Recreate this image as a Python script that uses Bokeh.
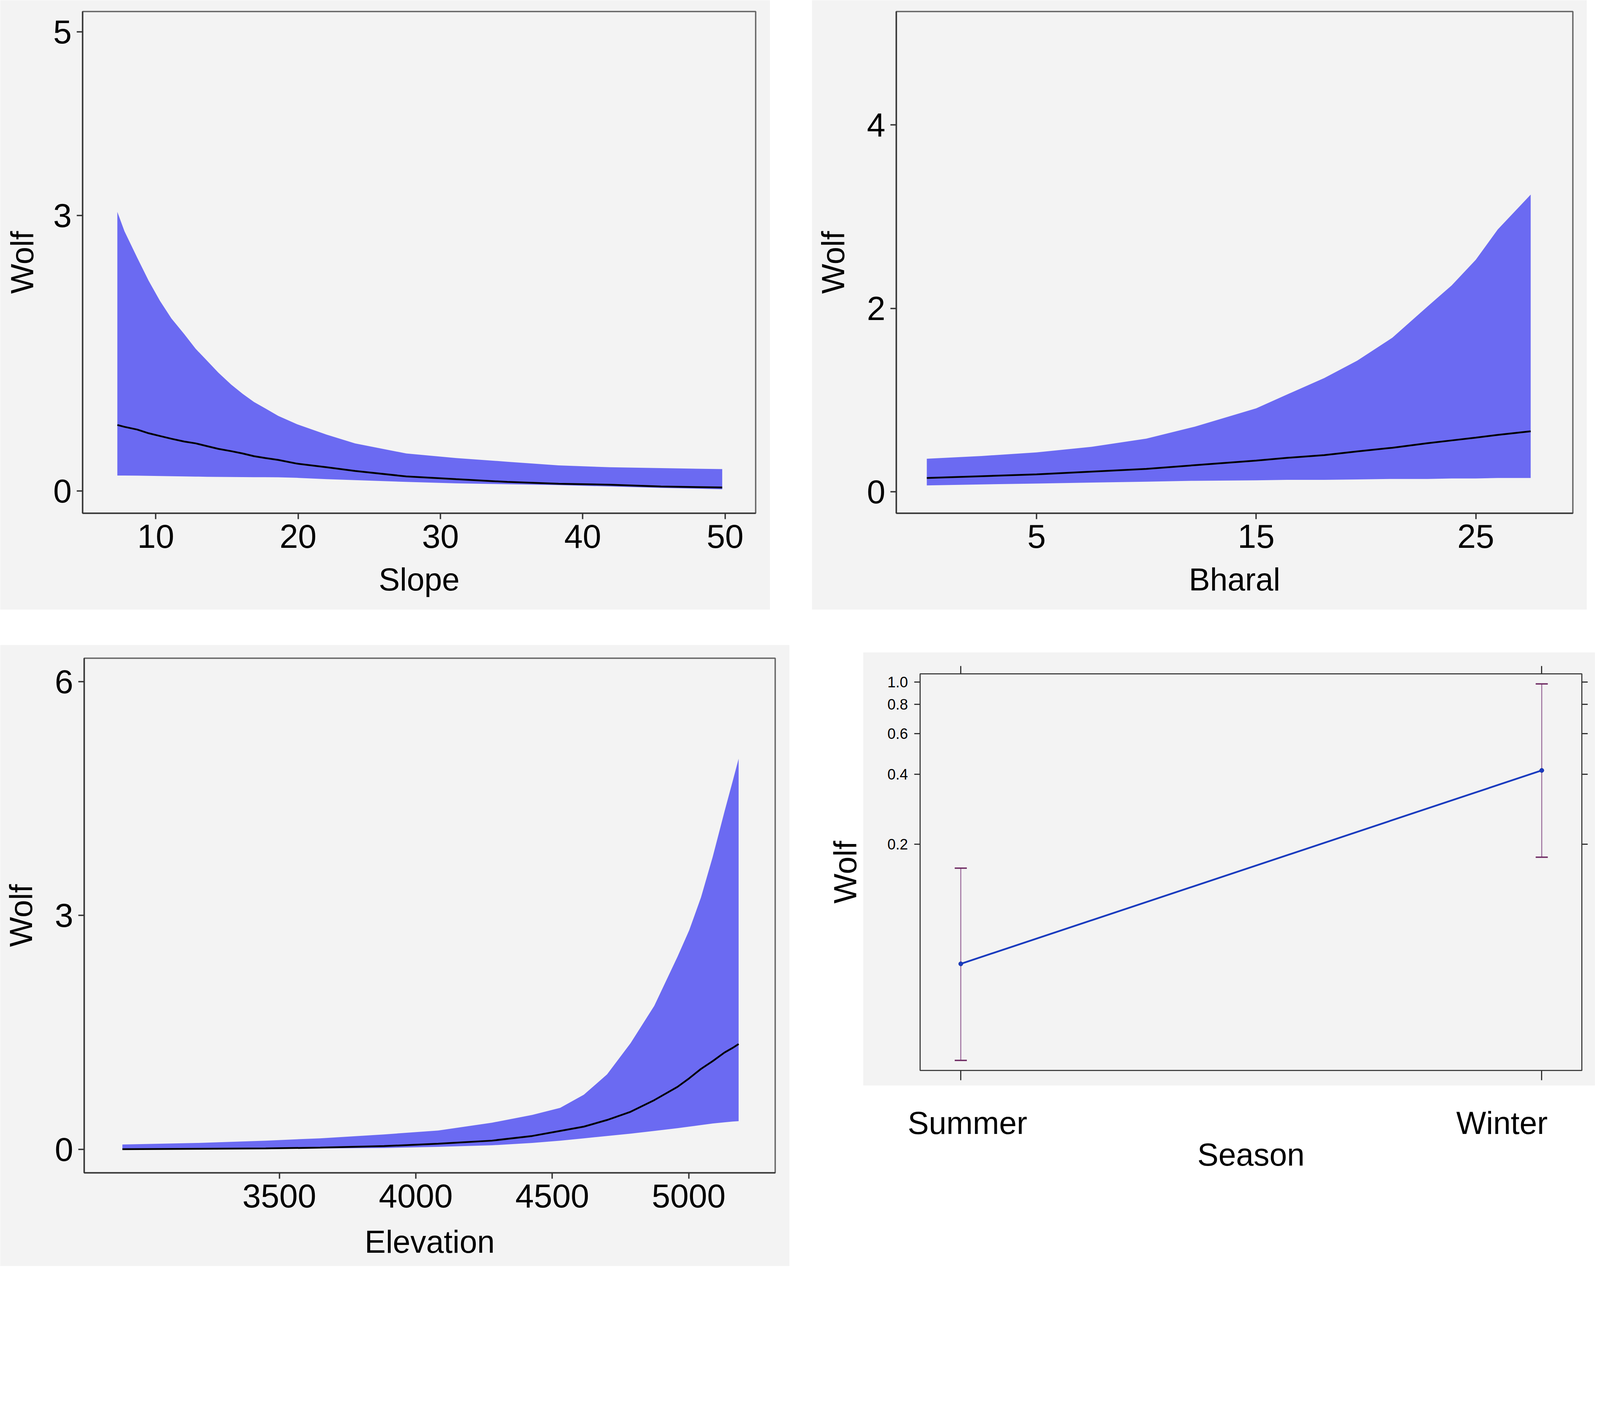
from bokeh.plotting import figure
from bokeh.models import (LinearAxis, LogAxis, FixedTicker, PrintfTickFormatter, Range1d,
                          Whisker, TeeHead, ColumnDataSource, Spacer, CustomJSTickFormatter)
from bokeh.layouts import column, row
from bokeh.embed import file_html
from bokeh.resources import INLINE

# ---------------- data ----------------
slope_x = [7.3, 7.8, 8.7, 9.5, 10.3, 11.1, 12.0, 12.8, 13.6, 14.4, 15.3, 16.1, 16.9, 17.7, 18.6,
           19.9, 22.0, 24.0, 27.6, 31.1, 34.7, 38.3, 41.9, 45.5, 49.8]
slope_upper = [3.04, 2.83, 2.54, 2.29, 2.07, 1.88, 1.71, 1.55, 1.42, 1.29, 1.16, 1.06, 0.97, 0.90, 0.82,
               0.73, 0.615, 0.52, 0.41, 0.36, 0.32, 0.28, 0.26, 0.25, 0.24]
slope_mean = [0.72, 0.70, 0.67, 0.63, 0.60, 0.57, 0.54, 0.52, 0.49, 0.46, 0.435, 0.41, 0.38, 0.36, 0.34,
              0.30, 0.26, 0.22, 0.16, 0.13, 0.10, 0.08, 0.07, 0.05, 0.04]
slope_lower = [0.17, 0.17, 0.168, 0.166, 0.164, 0.162, 0.16, 0.158, 0.156, 0.155, 0.154, 0.153, 0.152,
               0.151, 0.15, 0.145, 0.13, 0.12, 0.10, 0.085, 0.075, 0.065, 0.05, 0.035, 0.02]

bharal_x = [0, 2.5, 5, 7.5, 10, 12.2, 15, 16.4, 18.1, 19.6, 21.2, 22.8, 23.9, 25.0, 26.0, 27.5]
bharal_upper = [0.36, 0.39, 0.43, 0.49, 0.58, 0.71, 0.91, 1.06, 1.24, 1.43, 1.68, 2.02, 2.25, 2.53, 2.86, 3.24]
bharal_mean = [0.15, 0.17, 0.19, 0.22, 0.25, 0.29, 0.34, 0.37, 0.40, 0.44, 0.48, 0.53, 0.56, 0.59, 0.62, 0.66]
bharal_lower = [0.07, 0.08, 0.09, 0.10, 0.11, 0.12, 0.125, 0.13, 0.13, 0.135, 0.14, 0.14, 0.145, 0.145, 0.15, 0.15]

elev_x = [2925, 3200, 3450, 3650, 3884, 4082, 4279, 4427, 4529, 4616, 4701, 4787, 4874, 4959, 5002,
          5045, 5088, 5131, 5161, 5183]
elev_upper = [0.06, 0.08, 0.11, 0.14, 0.19, 0.24, 0.34, 0.44, 0.53, 0.70, 0.96, 1.36, 1.84, 2.47, 2.81,
              3.23, 3.75, 4.33, 4.72, 5.01]
elev_mean = [0.00, 0.005, 0.01, 0.02, 0.04, 0.07, 0.11, 0.17, 0.235, 0.29, 0.375, 0.48, 0.63, 0.80, 0.91,
             1.03, 1.13, 1.24, 1.30, 1.35]
elev_lower = [0.00, 0.00, 0.005, 0.01, 0.015, 0.03, 0.05, 0.08, 0.11, 0.14, 0.17, 0.20, 0.235, 0.27, 0.29,
              0.31, 0.33, 0.345, 0.355, 0.36]

seasons = ["Summer", "Winter"]
season_fit = [0.0612, 0.416]
season_lower = [0.0235, 0.176]
season_upper = [0.158, 0.98]

slope_ticks = [10, 20, 30, 40, 50]
slope_yticks = [0, 3, 5]
bharal_ticks = [5, 15, 25]
bharal_yticks = [0, 2, 4]
elev_ticks = [3500, 4000, 4500, 5000]
elev_yticks = [0, 3, 6]
season_yticks = [0.2, 0.4, 0.6, 0.8, 1.0]

# ---------------- style / geometry ----------------
K = 1 / 1.11          # reference pixels -> css pixels
GRAY = "#f3f3f3"
BAND = "#6b6af2"
FONT = "Liberation Sans"
TICK_FS = f"{round(94 * K)}px"
LAB_FS = f"{round(90 * K)}px"


def X(v):
    return round(v * K) - 8


def make_fig(canvas, frame, xr, yr, ylog=False, fill=GRAY):
    cx0, cy0, cx1, cy1 = canvas
    L, R, T, B = frame
    p = figure(width=X(cx1) - X(cx0), height=X(cy1) - X(cy0),
               x_range=xr if isinstance(xr, Range1d) else Range1d(*xr), y_range=Range1d(*yr),
               y_axis_type="log" if ylog else "linear",
               output_backend="svg", toolbar_location=None, frame_align=False,
               min_border_left=X(L) - X(cx0), min_border_right=X(cx1) - X(R),
               min_border_top=X(T) - X(cy0), min_border_bottom=X(cy1) - X(B),
               border_fill_color=fill, background_fill_color=fill)
    p.grid.visible = False
    return p


def style_axis(ax, ticks, out, width=3.5, labels=True, fs=TICK_FS, standoff=0):
    ax.ticker = FixedTicker(ticks=ticks)
    ax.minor_tick_line_color = None
    ax.major_tick_in = 0
    ax.major_tick_out = round(out * K)
    ax.major_tick_line_width = width
    ax.major_tick_line_color = "#333333"
    ax.major_label_text_font = FONT
    ax.major_label_text_font_size = fs
    ax.major_label_text_color = "black" if labels else None
    ax.major_label_standoff = standoff


def axis_title(ax, text, standoff):
    ax.axis_label = text
    ax.axis_label_text_font = FONT
    ax.axis_label_text_font_size = LAB_FS
    ax.axis_label_text_font_style = "normal"
    ax.axis_label_text_color = "black"
    ax.axis_label_standoff = standoff


def band_panel(canvas, frame, xr, yr, xt, yt, xlabel, xl_standoff, yl_standoff, xs, lo, mid, hi):
    p = make_fig(canvas, frame, xr, yr)
    p.outline_line_color = "#666666"
    p.outline_line_width = 3.5
    style_axis(p.xaxis[0], xt, 17, standoff=14)
    style_axis(p.yaxis[0], yt, 17, standoff=13)
    for ax in (p.xaxis[0], p.yaxis[0]):
        ax.axis_line_color = "#333333"
        ax.axis_line_width = 3.5
    axis_title(p.xaxis[0], xlabel, xl_standoff)
    axis_title(p.yaxis[0], "Wolf", yl_standoff)
    p.varea(x=xs, y1=lo, y2=hi, fill_color=BAND)
    p.line(xs, mid, line_color="black", line_width=4.5)
    return p


# Panel 1: Slope
P1_CANVAS, P1_FRAME = (9, 8.88, 2197, 1740), (243, 2156, 41, 1466)
p1 = band_panel(P1_CANVAS, P1_FRAME, (4.86, 52.15), (-0.241, 5.222), slope_ticks, slope_yticks,
                "Slope", 33, 31, slope_x, slope_lower, slope_mean, slope_upper)

# Panel 2: Bharal
P2_CANVAS, P2_FRAME = (2315, 8.88, 4518, 1740), (2555, 4478, 41, 1466)
p2 = band_panel(P2_CANVAS, P2_FRAME, (-1.39, 29.42), (-0.234, 5.236), bharal_ticks, bharal_yticks,
                "Bharal", 33, 38, bharal_x, bharal_lower, bharal_mean, bharal_upper)

# Panel 3: Elevation
P3_CANVAS, P3_FRAME = (9, 1840, 2252, 3605), (248, 2211, 1878, 3340)
p3 = band_panel(P3_CANVAS, P3_FRAME, (2785, 5317), (-0.303, 6.30), elev_ticks, elev_yticks,
                "Elevation", 40, 38, elev_x, elev_lower, elev_mean, elev_upper)

# Panel 4: Season (log y) -- gray plot plus white strips holding its titles
P4_CANVAS, P4_FRAME = (2461, 1861, 4541, 3092), (2623, 4503, 1923, 3049)
P4_YR = (0.02128, 1.083)
p4_xr = Range1d(0.930, 2.069)
p4 = make_fig(P4_CANVAS, P4_FRAME, p4_xr, P4_YR, ylog=True)
p4.outline_line_color = "#444444"
p4.outline_line_width = 3
x_pos = [i + 1 for i in range(len(seasons))]
# category labels sit slightly inside the tick marks in the reference
label_pos = [x_pos[0] + 0.0115, x_pos[1] - 0.0685]

xa = p4.xaxis[0]
style_axis(xa, x_pos, 28, width=3, labels=False, fs="6px")
xa.axis_line_color = None
ya = p4.yaxis[0]
style_axis(ya, season_yticks, 17, width=3, fs="38px", standoff=16)
ya.formatter = PrintfTickFormatter(format="%.1f")
ya.axis_line_color = None
xt_ax = LinearAxis()
style_axis(xt_ax, x_pos, 22, width=3, labels=False, fs="6px")
xt_ax.axis_line_color = None
p4.add_layout(xt_ax, "above")
yr_ax = LogAxis()
style_axis(yr_ax, season_yticks, 17, width=3, labels=False, fs="6px")
yr_ax.axis_line_color = None
p4.add_layout(yr_ax, "right")

src = ColumnDataSource(dict(x=x_pos, fit=season_fit, lo=season_lower, hi=season_upper))
head = dict(size=round(34 * K), line_color="#6e2a62", line_width=3.5)
p4.add_layout(Whisker(base="x", lower="lo", upper="hi", source=src,
                      line_color="#9a6a9a", line_width=2.5,
                      upper_head=TeeHead(**head), lower_head=TeeHead(**head)))
p4.line("x", "fit", source=src, line_color="#1a3bbf", line_width=4.5)
p4.scatter("x", "fit", source=src, size=11, fill_color="#1a3bbf", line_color="#0f2a9a")

# white strip on the left: y title "Wolf"
pW = make_fig((2330, 1861, 2461, 3092), (2460, 2461, 1923, 3049), (0, 1), (0, 1), fill="white")
pW.outline_line_color = None
pW.xaxis.visible = False
style_axis(pW.yaxis[0], [], 0, labels=False, fs="6px")
pW.yaxis[0].axis_line_color = None
axis_title(pW.yaxis[0], "Wolf", 0)

# white strip below: category labels and x title "Season"
pB = make_fig((2461, 3092, 4541, 3380), (2623, 4503, 3092, 3093), p4_xr, (0, 1), fill="white")
pB.outline_line_color = None
pB.yaxis.visible = False
xb = pB.xaxis[0]
style_axis(xb, label_pos, 0, width=3, fs=LAB_FS, standoff=50)
xb.major_tick_line_color = None
xb.axis_line_color = None
xb.formatter = CustomJSTickFormatter(args=dict(names=seasons), code="return names[index];")
axis_title(xb, "Season", -12)

# ---------------- layout ----------------
row1 = row(p1, Spacer(width=X(P2_CANVAS[0]) - X(P1_CANVAS[2]), height=10), p2)
panel4 = row(pW, column(p4, pB))
row2 = row(p3, Spacer(width=X(2330) - X(P3_CANVAS[2]), height=10),
           column(Spacer(width=10, height=X(P4_CANVAS[1]) - X(P3_CANVAS[1])), panel4))
layout = column(row1, Spacer(width=10, height=X(P3_CANVAS[1]) - X(P1_CANVAS[3])), row2)

open("out.html", "w").write(file_html(layout, INLINE, "plot"))
